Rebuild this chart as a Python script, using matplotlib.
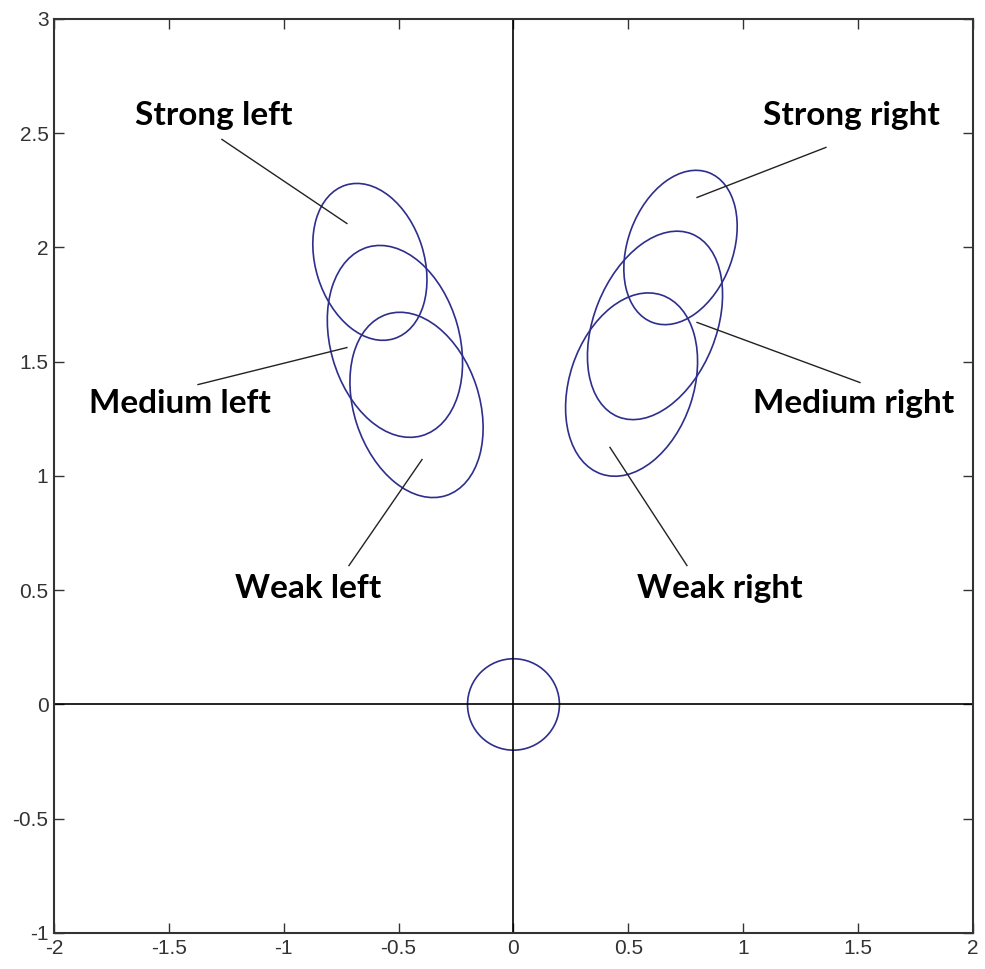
import numpy as np
import matplotlib
matplotlib.use('Agg')
import matplotlib.pyplot as plt
from matplotlib.patches import Ellipse

plt.rcParams['axes.unicode_minus'] = False

# ellipses: centre, semi axes, angle of major axis (deg)
names = ['Strong left', 'Medium left', 'Weak left',
         'Strong right', 'Medium right', 'Weak right']
cx = [-0.625, -0.516, -0.422, 0.727, 0.616, 0.514]
cy = [1.937, 1.589, 1.311, 2.000, 1.659, 1.400]
semi_a = [0.352, 0.429, 0.417, 0.350, 0.431, 0.413]
semi_b = [0.236, 0.281, 0.273, 0.229, 0.266, 0.270]
angle = [107.3, 105.7, 108.0, 69.7, 68.3, 71.7]

# circle at the origin
origin_r = 0.2

# label text position and pointer line (start -> end)
label_x = [-1.304, -1.452, -0.894, 1.469, 1.482, 0.899]
label_y = [2.578, 1.317, 0.508, 2.578, 1.317, 0.508]
line_x0 = [-1.269, -1.373, -0.716, 1.360, 1.508, 0.755]
line_y0 = [2.473, 1.400, 0.608, 2.438, 1.409, 0.608]
line_x1 = [-0.725, -0.725, -0.398, 0.799, 0.799, 0.420]
line_y1 = [2.105, 1.562, 1.072, 2.219, 1.672, 1.125]

xticks = [-2, -1.5, -1, -0.5, 0, 0.5, 1, 1.5, 2]
yticks = [-1, -0.5, 0, 0.5, 1, 1.5, 2, 2.5, 3]

ell_col = '#2e2e8c'

fig = plt.figure(figsize=(9.85, 9.69), dpi=100)
ax = fig.add_axes([0.0548, 0.0372, 0.9330, 0.9432])
ax.set_xlim(-2, 2)
ax.set_ylim(-1, 3)

ax.axhline(0, color='black', lw=1.2)
ax.axvline(0, color='black', lw=1.2)

for i in range(len(names)):
    e = Ellipse((cx[i], cy[i]), 2*semi_a[i], 2*semi_b[i], angle=angle[i],
                fill=False, edgecolor=ell_col, lw=1.2)
    ax.add_patch(e)
    ax.plot([line_x0[i], line_x1[i]], [line_y0[i], line_y1[i]], color='#222222', lw=1.0)
    ax.text(label_x[i], label_y[i], names[i], ha='center', va='center',
            fontsize=24, fontweight='bold', family=['Lato', 'DejaVu Sans'])

ax.add_patch(Ellipse((0, 0), 2*origin_r, 2*origin_r, fill=False,
                     edgecolor=ell_col, lw=1.2))

ax.set_xticks(xticks)
ax.set_yticks(yticks)
ax.set_xticklabels(['%g' % v for v in xticks])
ax.set_yticklabels(['%g' % v for v in yticks])
ax.tick_params(direction='in', length=7, width=1, top=True, right=True,
               labelsize=15, colors='#333333', pad=4)
for lbl in ax.get_xticklabels() + ax.get_yticklabels():
    lbl.set_family(['Liberation Sans', 'DejaVu Sans'])
for s in ax.spines.values():
    s.set_linewidth(1.5)
    s.set_color('#333333')

fig.savefig('out.png', dpi=100)
